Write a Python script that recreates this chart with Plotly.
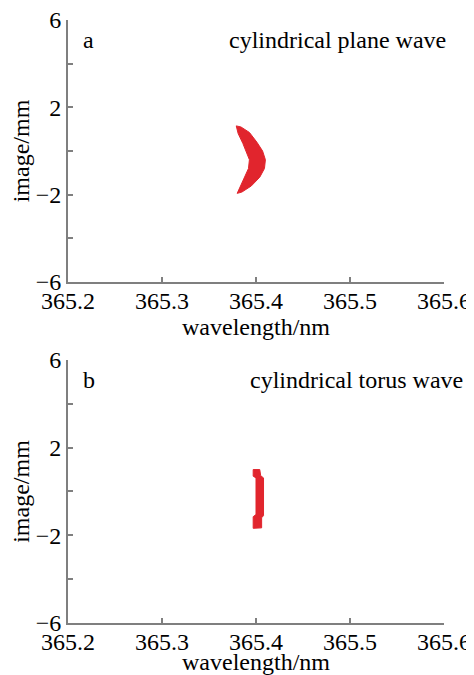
import plotly.graph_objects as go

# Spot outline, panel a (cylindrical plane wave): crescent
plane_x = [365.379, 365.384, 365.393, 365.401, 365.407, 365.410, 365.409, 365.404,
           365.395, 365.385, 365.380, 365.382, 365.387, 365.392, 365.393, 365.390,
           365.386, 365.381, 365.379]
plane_y = [1.15, 1.10, 0.85, 0.40, 0.00, -0.40, -0.80, -1.20,
           -1.60, -1.88, -1.94, -1.75, -1.30, -0.80, -0.40, -0.05,
           0.35, 0.80, 1.15]

# Spot outline, panel b (cylindrical torus wave): thin bar
torus_x = [365.397, 365.404, 365.405, 365.408, 365.408, 365.406, 365.406,
           365.397, 365.397, 365.400, 365.400, 365.397, 365.397]
torus_y = [1.00, 1.00, 0.72, 0.62, -1.10, -1.20, -1.66,
           -1.68, -1.15, -1.05, 0.62, 0.70, 1.00]

x_ticks = [365.2, 365.3, 365.4, 365.5, 365.6]
x_ticktext = ["365.2", "365.3", "365.4", "365.5", "365.6"]
y_ticks = [-6, -4, -2, 0, 2, 4, 6]
y_ticktext = ["\u22126", "", "\u22122", "", "2", "", "6"]

panel_letters = ["a", "b"]
panel_titles = ["cylindrical plane wave", "cylindrical torus wave"]

RED = "#E1252D"
GRAY = "#7f7f7f"
FONT = "Liberation Serif, Times New Roman, serif"
FS = 24

fig = go.Figure()
fig.add_trace(go.Scatter(x=plane_x, y=plane_y, fill="toself", mode="lines",
                         fillcolor=RED, line=dict(color=RED, width=1),
                         xaxis="x", yaxis="y", showlegend=False, hoverinfo="skip"))
fig.add_trace(go.Scatter(x=torus_x, y=torus_y, fill="toself", mode="lines",
                         fillcolor=RED, line=dict(color=RED, width=1),
                         xaxis="x2", yaxis="y2", showlegend=False, hoverinfo="skip"))

axis_common = dict(showline=True, linecolor=GRAY, linewidth=2, ticks="inside",
                   ticklen=5, tickcolor=GRAY, tickwidth=1.5, showgrid=False,
                   zeroline=False, mirror=False, automargin=False,
                   ticklabeloverflow="allow",
                   tickfont=dict(family=FONT, size=FS, color="black"))

xax = dict(axis_common, range=[365.2, 365.6], tickmode="array", tickvals=x_ticks,
           ticktext=x_ticktext, ticklabelstandoff=-4,
           title=dict(text="wavelength/nm", font=dict(family=FONT, size=FS, color="black"),
                      standoff=0))
yax = dict(axis_common, range=[-6, 6], tickmode="array", tickvals=y_ticks,
           ticktext=y_ticktext,
           title=dict(text="image/mm", font=dict(family=FONT, size=FS, color="black"),
                      standoff=10))

top_dom = [0.5655, 1.0]
bot_dom = [0.0, 0.4362]

# page body has an 8px margin, so the figure is sized/offset to compensate
fig.update_layout(
    template="none",
    width=466, height=667,
    margin=dict(l=60, r=30, t=12, b=52),
    paper_bgcolor="white", plot_bgcolor="white",
    font=dict(family=FONT, size=FS, color="black"),
    xaxis=dict(xax, domain=[0, 1], anchor="y"),
    yaxis=dict(yax, domain=top_dom, anchor="x"),
    xaxis2=dict(xax, domain=[0, 1], anchor="y2"),
    yaxis2=dict(yax, domain=bot_dom, anchor="x2"),
)

for i, (xr, yr) in enumerate([("x domain", "y domain"), ("x2 domain", "y2 domain")]):
    fig.add_annotation(x=0.035, y=0.925, xref=xr, yref=yr, text=panel_letters[i],
                       showarrow=False, xanchor="left", yanchor="middle",
                       font=dict(family=FONT, size=FS, color="black"))
    fig.add_annotation(x=1.01 if i == 0 else 1.055, y=0.925, xref=xr, yref=yr,
                       text=panel_titles[i], showarrow=False, xanchor="right",
                       yanchor="middle", font=dict(family=FONT, size=FS, color="black"))

fig.write_html("out.html")
